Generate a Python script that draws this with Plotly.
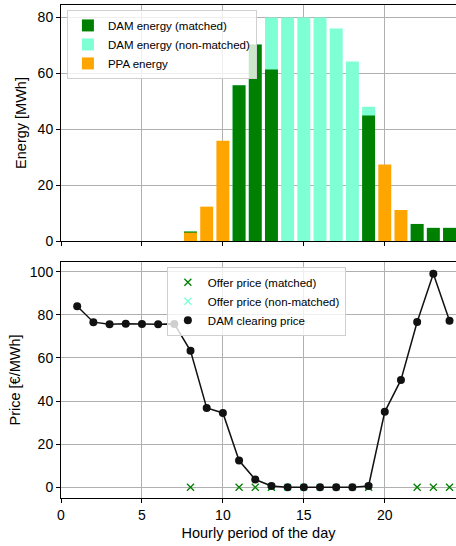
import plotly.graph_objects as go
from plotly.subplots import make_subplots

hours = list(range(1, 25))

# Energy [MWh]
dam_matched = [0, 0, 0, 0, 0, 0, 0, 3.4, 0, 0, 55.8, 70.4, 61.4, 0, 0, 0, 0, 0, 44.9, 0, 0, 6.1, 4.7, 4.7]
dam_total = [0, 0, 0, 0, 0, 0, 0, 3.4, 0, 0, 55.8, 70.4, 80, 80, 80, 80, 76.1, 64.3, 48.1, 0, 0, 6.1, 4.7, 4.7]
ppa = [0, 0, 0, 0, 0, 0, 0, 3.0, 12.3, 35.9, 0, 0, 0, 0, 0, 0, 0, 0, 0, 27.4, 11.1, 0, 0, 0]

# Prices [€/MWh]
clearing_price = [84.0, 76.6, 75.6, 75.9, 75.8, 75.6, 75.8, 63.3, 36.8, 34.5, 12.4, 3.6,
                  0.6, 0, 0, 0, 0, 0, 0.6, 35.0, 49.8, 76.7, 99.0, 77.3]
offer_matched_hours = [8, 11, 12, 13, 19, 22, 23, 24]
offer_matched_price = [0, 0, 0, 0, 0, 0, 0, 0]
offer_nonmatched_hours = [13, 14, 15, 16, 17, 18, 19]
offer_nonmatched_price = [0, 0, 0, 0, 0, 0, 0]

GREEN = "#008000"
AQUA = "#7FFFD4"
ORANGE = "#FFA500"
DARK = "#111111"
FONT = "Liberation Sans, Arial, sans-serif"

fig = make_subplots(rows=2, cols=1, shared_xaxes=False, vertical_spacing=0.0426)

fig.add_trace(go.Bar(x=hours, y=dam_total, marker_color=AQUA, marker_line_width=0, width=0.8,
                     name="DAM energy (non-matched)", legendrank=2, legend="legend"), row=1, col=1)
fig.add_trace(go.Bar(x=hours, y=dam_matched, marker_color=GREEN, marker_line_width=0, width=0.8,
                     name="DAM energy (matched)", legendrank=1, legend="legend"), row=1, col=1)
fig.add_trace(go.Bar(x=hours, y=ppa, marker_color=ORANGE, marker_line_width=0, width=0.8,
                     name="PPA energy", legendrank=3, legend="legend"), row=1, col=1)

fig.add_trace(go.Scatter(x=offer_nonmatched_hours, y=offer_nonmatched_price, mode="markers",
                         marker=dict(symbol="x-thin", size=7, line=dict(color=AQUA, width=1.3)),
                         name="Offer price (non-matched)", legendrank=2, legend="legend2"), row=2, col=1)
fig.add_trace(go.Scatter(x=offer_matched_hours, y=offer_matched_price, mode="markers",
                         marker=dict(symbol="x-thin", size=7, line=dict(color=GREEN, width=1.3)),
                         name="Offer price (matched)", legendrank=1, legend="legend2"), row=2, col=1)
fig.add_trace(go.Scatter(x=hours, y=clearing_price, mode="lines",
                         line=dict(color=DARK, width=1.5), showlegend=False,
                         name="DAM clearing price line"), row=2, col=1)
fig.add_trace(go.Scatter(x=hours, y=clearing_price, mode="markers",
                         marker=dict(symbol="circle", size=8, color=DARK),
                         name="DAM clearing price", legendrank=3, legend="legend2"), row=2, col=1)

axis_common = dict(showline=True, linecolor="black", linewidth=1, ticks="outside", ticklen=4,
                   tickcolor="black", showgrid=True, gridcolor="#b0b0b0", gridwidth=1,
                   tickfont=dict(size=14, color="black"), zeroline=False)

fig.update_xaxes(range=[0, 24.4], dtick=5, tick0=0, mirror=True, **axis_common)
fig.update_xaxes(showticklabels=False, row=1, col=1)
fig.update_xaxes(title=dict(text="Hourly period of the day", font=dict(size=14.5, color="black"), standoff=6),
                 row=2, col=1)
fig.update_yaxes(**axis_common)
fig.update_yaxes(range=[0, 84.5], dtick=20, row=1, col=1,
                 title=dict(text="Energy [MWh]", font=dict(size=14.5, color="black"), standoff=7))
fig.update_yaxes(range=[-4.95, 104.5], dtick=20, row=2, col=1,
                 title=dict(text="Price [€/MWh]", font=dict(size=14.5, color="black"), standoff=5))

fig.update_layout(
    width=456, height=546,
    margin=dict(l=61, r=0, t=5, b=48),
    plot_bgcolor="white", paper_bgcolor="white",
    font=dict(family=FONT, color="black"),
    barmode="overlay", bargap=0.2,
    legend=dict(x=0.015, y=0.99, xanchor="left", yanchor="top",
                bgcolor="rgba(255,255,255,0.8)", bordercolor="#d0d0d0", borderwidth=1,
                font=dict(size=11.5), tracegroupgap=0, itemwidth=30),
    legend2=dict(x=0.268, y=0.469, xanchor="left", yanchor="top",
                 bgcolor="rgba(255,255,255,0.8)", bordercolor="#d0d0d0", borderwidth=1,
                 font=dict(size=11.5), tracegroupgap=0, itemwidth=30),
    showlegend=True,
)

fig.write_html("out.html", config={"displayModeBar": False},
               post_script="document.body.style.margin='0px';document.body.style.overflow='hidden';")
